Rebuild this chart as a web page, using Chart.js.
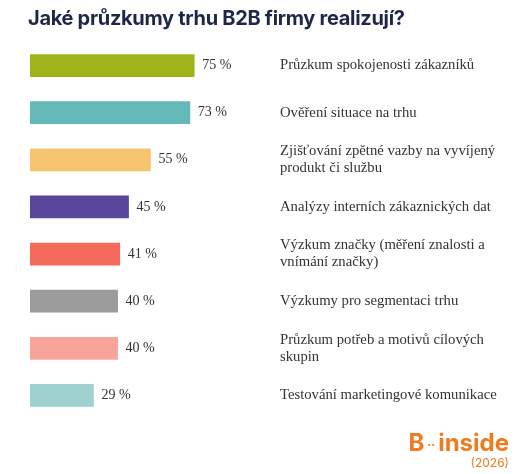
<!DOCTYPE html><html><head><meta charset="utf-8">
<script src="https://cdn.jsdelivr.net/npm/chart.js@4"></script>
<style>body{margin:0;background:#fff}#w{position:relative;width:521px;height:474px}
h1{position:absolute;left:28px;top:6px;margin:0;font:bold 20px Inter,"Open Sans",sans-serif;color:#1f2748;letter-spacing:-0.3px}
#logo{position:absolute;right:12px;top:428px;text-align:right;color:#f07a1e;font-family:Inter,sans-serif}
#logo .b{font:bold 24px Inter,sans-serif}#logo .y{font-size:12px;margin-top:-2px}</style></head><body>
<div id="w"><h1>Jaké průzkumy trhu B2B firmy realizují?</h1>
<canvas id="c" width="521" height="474"></canvas>
<div id="logo"><div class="b">B<span style="font-size:12px;vertical-align:middle"> ·· </span>inside</div><div class="y">(2026)</div></div></div>
<script>
const categories=[["Průzkum spokojenosti zákazníků"],["Ověření situace na trhu"],["Zjišťování zpětné vazby na vyvíjený","produkt či službu"],["Analýzy interních zákaznických dat"],["Výzkum značky (měření znalosti a","vnímání značky)"],["Výzkumy pro segmentaci trhu"],["Průzkum potřeb a motivů cílových","skupin"],["Testování marketingové komunikace"]];
const values=[75,73,55,45,41,40,40,29];
const colors=["#9fb41a","#62b9b8","#f6c46f","#58479a","#f46a5c","#9b9b9b","#f8a49b","#9fd2ce"];
const labelPlugin={id:'lbl',afterDatasetsDraw(ch){const c=ch.ctx;const m=ch.getDatasetMeta(0);c.save();c.fillStyle='#333';c.textBaseline='middle';
m.data.forEach((b,i)=>{c.textAlign='left';c.font='14px "Liberation Serif",serif';c.fillText(values[i]+' %',b.x+8,b.y);
c.font='14.7px "Liberation Serif",serif';const L=categories[i];L.forEach((t,j)=>c.fillText(t,280,b.y+(j-(L.length-1)/2)*17));});c.restore();}};
new Chart(document.getElementById('c'),{type:'bar',data:{labels:categories.map(x=>x.join(' ')),datasets:[{data:values,backgroundColor:colors,barThickness:22}]},
options:{indexAxis:'y',responsive:false,animation:false,layout:{padding:{left:30,right:272,top:42,bottom:55}},
plugins:{legend:{display:false},tooltip:{enabled:false}},
scales:{x:{display:false,min:0,max:100},y:{display:false}}},plugins:[labelPlugin]});
</script></body></html>
